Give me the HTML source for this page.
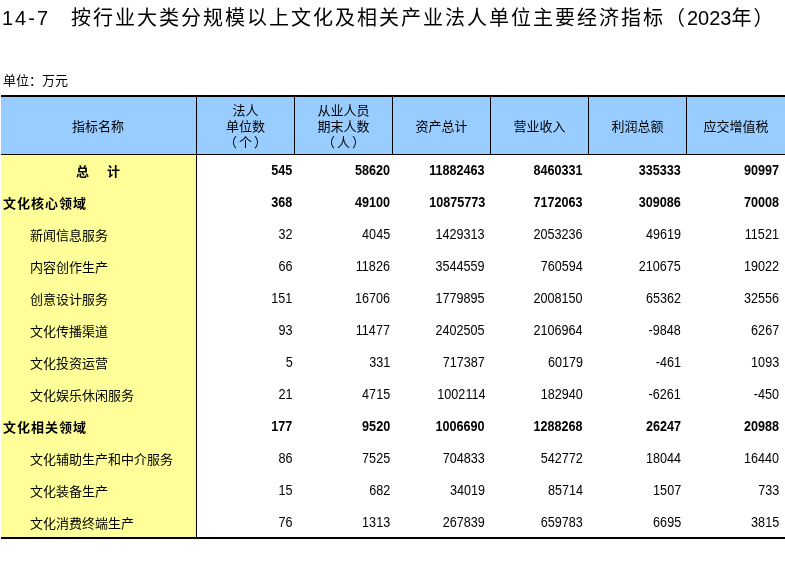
<!DOCTYPE html>
<html lang="zh-CN">
<head>
<meta charset="utf-8">
<title>14-7 按行业大类分规模以上文化及相关产业法人单位主要经济指标（2023年）</title>
<style>
html,body{margin:0;padding:0;background:#fff;}
body{width:785px;height:571px;overflow:hidden;position:relative;font-family:"Liberation Sans","Noto Sans CJK SC",sans-serif;color:#000;}
.title{position:absolute;left:0;top:3px;height:30px;width:785px;font-size:20px;line-height:30px;white-space:nowrap;font-weight:400;}
.title span{position:absolute;top:0;}
.title .a{left:2px;letter-spacing:2px;}
.title .b{left:71px;letter-spacing:2px;}
.title .d{letter-spacing:0;}
.unit{position:absolute;left:3px;top:73px;font-size:13px;line-height:16px;white-space:nowrap;}
table{position:absolute;left:0;top:95px;width:785px;border-collapse:separate;border-spacing:0;table-layout:fixed;font-size:13px;}
col.c0{width:197px;}
col.c1,col.c2,col.c3,col.c4,col.c5{width:98px;}
col.c6{width:98px;}
thead th{background:#99ccff;height:60px;box-sizing:border-box;border-top:2px solid #000;border-bottom:1px solid #000;border-right:1px solid #000;font-weight:400;text-align:center;vertical-align:middle;line-height:16px;padding:2px 0 0 0;}
thead th i{font-style:normal;position:relative;}
thead th i.l{left:-2px;}
thead th i.r{left:2px;}
thead th:last-child{border-right:none;}
tbody td{height:32px;padding:0 3px 2px 0;text-align:right;vertical-align:middle;line-height:16px;box-sizing:border-box;font-size:14px;}
tbody td b{display:inline-block;font-weight:inherit;transform:scaleX(0.9);transform-origin:100% 50%;}
tbody td:nth-child(2){padding-right:2.5px;}
tbody td:nth-child(3){padding-right:3px;}
tbody td:nth-child(n+4){padding-right:6px;}
tbody td.n{background:#ffff99;border-right:1px solid #000;text-align:left;padding:1px 0 0 30px;font-size:13px;letter-spacing:0;}
tbody tr.b td{font-weight:700;}
tbody tr.b td.n{padding-left:3px;letter-spacing:1px;}
tbody tr.t td.n{text-align:center;padding:1px 0 0 0;letter-spacing:0;}
.gap{display:inline-block;width:18px;}
.edge{position:absolute;left:0;top:90px;width:1px;height:460px;background:#fff;}
.bottom{position:absolute;left:0;top:537px;width:785px;height:32px;background:#fff;border-top:2px solid #000;}
</style>
</head>
<body>
<div class="title"><span class="a">14-7</span><span class="b">按行业大类分规模以上文化及相关产业法人单位主要经济指标（<span class="d" style="position:static">2023</span>年）</span></div>
<div class="unit">单位：万元</div>
<table>
<colgroup><col class="c0"><col class="c1"><col class="c2"><col class="c3"><col class="c4"><col class="c5"><col class="c6"></colgroup>
<thead>
<tr><th>指标名称</th><th>法人<br>单位数<br><i class="l">（</i>个<i class="r">）</i></th><th>从业人员<br>期末人数<br><i class="l">（</i>人<i class="r">）</i></th><th>资产总计</th><th>营业收入</th><th>利润总额</th><th>应交增值税</th></tr>
</thead>
<tbody>
<tr class="b t"><td class="n">总<span class="gap"> </span>计</td><td><b>545</b></td><td><b>58620</b></td><td><b>11882463</b></td><td><b>8460331</b></td><td><b>335333</b></td><td><b>90997</b></td></tr>
<tr class="b"><td class="n">文化核心领域</td><td><b>368</b></td><td><b>49100</b></td><td><b>10875773</b></td><td><b>7172063</b></td><td><b>309086</b></td><td><b>70008</b></td></tr>
<tr><td class="n">新闻信息服务</td><td><b>32</b></td><td><b>4045</b></td><td><b>1429313</b></td><td><b>2053236</b></td><td><b>49619</b></td><td><b>11521</b></td></tr>
<tr><td class="n">内容创作生产</td><td><b>66</b></td><td><b>11826</b></td><td><b>3544559</b></td><td><b>760594</b></td><td><b>210675</b></td><td><b>19022</b></td></tr>
<tr><td class="n">创意设计服务</td><td><b>151</b></td><td><b>16706</b></td><td><b>1779895</b></td><td><b>2008150</b></td><td><b>65362</b></td><td><b>32556</b></td></tr>
<tr><td class="n">文化传播渠道</td><td><b>93</b></td><td><b>11477</b></td><td><b>2402505</b></td><td><b>2106964</b></td><td><b>-9848</b></td><td><b>6267</b></td></tr>
<tr><td class="n">文化投资运营</td><td><b>5</b></td><td><b>331</b></td><td><b>717387</b></td><td><b>60179</b></td><td><b>-461</b></td><td><b>1093</b></td></tr>
<tr><td class="n">文化娱乐休闲服务</td><td><b>21</b></td><td><b>4715</b></td><td><b>1002114</b></td><td><b>182940</b></td><td><b>-6261</b></td><td><b>-450</b></td></tr>
<tr class="b"><td class="n">文化相关领域</td><td><b>177</b></td><td><b>9520</b></td><td><b>1006690</b></td><td><b>1288268</b></td><td><b>26247</b></td><td><b>20988</b></td></tr>
<tr><td class="n">文化辅助生产和中介服务</td><td><b>86</b></td><td><b>7525</b></td><td><b>704833</b></td><td><b>542772</b></td><td><b>18044</b></td><td><b>16440</b></td></tr>
<tr><td class="n">文化装备生产</td><td><b>15</b></td><td><b>682</b></td><td><b>34019</b></td><td><b>85714</b></td><td><b>1507</b></td><td><b>733</b></td></tr>
<tr><td class="n">文化消费终端生产</td><td><b>76</b></td><td><b>1313</b></td><td><b>267839</b></td><td><b>659783</b></td><td><b>6695</b></td><td><b>3815</b></td></tr>
</tbody>
</table>
<div class="bottom"></div>
<div class="edge"></div>
</body>
</html>
